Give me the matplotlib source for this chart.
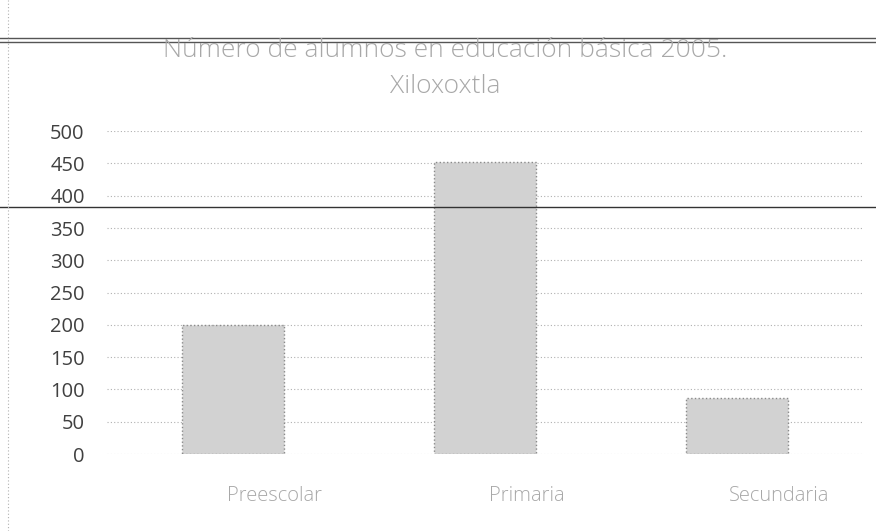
import matplotlib
matplotlib.use('Agg')
import matplotlib.pyplot as plt
import matplotlib.transforms as mtransforms
from matplotlib.lines import Line2D

categories = ['Preescolar', 'Primaria', 'Secundaria']
alumnos = [200, 452, 87]
yticks = [0, 50, 100, 150, 200, 250, 300, 350, 400, 450, 500]

plt.rcParams['font.family'] = ['Open Sans', 'DejaVu Sans']

fig = plt.figure(figsize=(8.76, 5.31), dpi=100)
ax = fig.add_axes([0.122, 0.145, 0.863, 0.608])

ax.bar(categories, alumnos, width=0.405, color='#d2d2d2',
       edgecolor='#8a8a8a', linewidth=1, linestyle=':', zorder=3)

ax.set_xlim(-0.5, 2.5)
ax.set_ylim(0, 500)
ax.set_yticks(yticks)
ax.yaxis.grid(True, color='#b0b0b0', linestyle=(0, (1, 2)), linewidth=0.8)
for s in ax.spines.values():
    s.set_visible(False)
ax.tick_params(axis='y', length=0, pad=16, labelsize=14.5, labelcolor='#404040')
ax.tick_params(axis='x', length=0, pad=23, labelsize=14.5, labelcolor='#a8a8a8')

# the scanned category labels sit a bit to the right of their bars
shift = mtransforms.ScaledTranslation(0.42, 0, fig.dpi_scale_trans)
for lbl in ax.get_xticklabels():
    lbl.set_fontweight('light')
    lbl.set_transform(lbl.get_transform() + shift)

# title
fig.text(0.508, 0.904, 'Número de alumnos en educación básica 2005.',
         ha='center', va='center', fontsize=19, color='#a8a8a8', fontweight='light')
fig.text(0.508, 0.838, 'Xiloxoxtla', ha='center', va='center',
         fontsize=19, color='#a8a8a8', fontweight='light')

# scan artifacts: rules across the page
fig.add_artist(Line2D([0, 1], [1 - 38 / 531, 1 - 38 / 531], color='#555555', lw=1))
fig.add_artist(Line2D([0, 1], [1 - 42 / 531, 1 - 42 / 531], color='#555555', lw=1))
fig.add_artist(Line2D([0, 1], [1 - 207 / 531, 1 - 207 / 531], color='#333333', lw=1))
fig.add_artist(Line2D([8 / 876, 8 / 876], [0, 1], color='#b0b0b0', lw=0.8,
                      linestyle=(0, (1, 2))))

fig.savefig('out.png', dpi=100)
